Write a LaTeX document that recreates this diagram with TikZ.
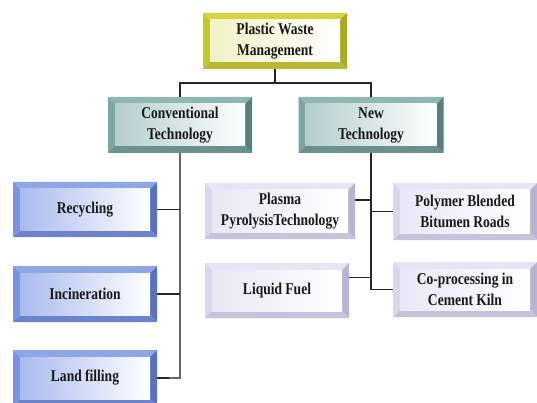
\documentclass[tikz,border=0pt]{standalone}
\usepackage{fontspec}
\setmainfont[FakeStretch=0.82]{Liberation Serif}
\usepackage{tikz}

\definecolor{yelA}{HTML}{D4D43E}
\definecolor{yelB}{HTML}{C6C62E}
\definecolor{yelC}{HTML}{A9A923}
\definecolor{yelD}{HTML}{BABA30}
\definecolor{yelF}{HTML}{F1F1C6}
\definecolor{tealA}{HTML}{90B6B3}
\definecolor{tealB}{HTML}{7CA6A3}
\definecolor{tealC}{HTML}{56807D}
\definecolor{tealD}{HTML}{6A918E}
\definecolor{tealF}{HTML}{B3CDCB}
\definecolor{bluA}{HTML}{8FA6E6}
\definecolor{bluB}{HTML}{7B93DC}
\definecolor{bluC}{HTML}{5B70BE}
\definecolor{bluD}{HTML}{6D82CC}
\definecolor{bluF}{HTML}{A9BAEE}
\definecolor{lavA}{HTML}{E7E5F3}
\definecolor{lavB}{HTML}{DAD7EB}
\definecolor{lavC}{HTML}{B9B4D2}
\definecolor{lavD}{HTML}{C6C2DC}
\definecolor{lavF}{HTML}{E9E7F5}

\begin{document}
\begin{tikzpicture}[
      x = 1pt, y = -1pt,
      bevel/.style n args = {5}{
        fill = white,
        path picture = {
          \path (path picture bounding box.south west) coordinate (bsw)
                (path picture bounding box.north east) coordinate (bne)
                (path picture bounding box.north west) coordinate (bnw)
                (path picture bounding box.south east) coordinate (bse)
                ([shift={(7pt,7pt)}]bsw) coordinate (isw)
                ([shift={(-7pt,-7pt)}]bne) coordinate (ine)
                ([shift={(7pt,-7pt)}]bnw) coordinate (inw)
                ([shift={(-7pt,7pt)}]bse) coordinate (ise);
          \fill[#1] (bnw) -- (bne) -- (ine) -- (inw) -- cycle;
          \fill[#2] (bnw) -- (inw) -- (isw) -- (bsw) -- cycle;
          \fill[#3] (bne) -- (bse) -- (ise) -- (ine) -- cycle;
          \fill[#4] (bsw) -- (isw) -- (ise) -- (bse) -- cycle;
          \shade[left color = #5, right color = white] (isw) rectangle (ine);
        }},
      box/.style = {
        rectangle, inner sep = 0pt, align = center,
        minimum width = 144pt, minimum height = 56pt,
        text = black!90, font = \bfseries\fontsize{16.5}{21}\selectfont},
      headbox/.style = {box, bevel = {yelA}{yelB}{yelC}{yelD}{yelF}},
      techbox/.style = {box, bevel = {tealA}{tealB}{tealC}{tealD}{tealF}},
      oldbox/.style = {box, bevel = {bluA}{bluB}{bluC}{bluD}{bluF}},
      newbox/.style = {box, bevel = {lavA}{lavB}{lavC}{lavD}{lavF}},
      link/.style = {line width = 1.4pt, black!85}
      ]
    \useasboundingbox (0,0) rectangle (537,403);
    \node[headbox] (waste) at (275,41) {Plastic Waste\\Management};
    \node[techbox] (conv) at (180,125) {Conventional\\Technology};
    \node[techbox, minimum width = 145pt] (new) at (371,125) {New\\Technology};
    % conventional side
    \node[oldbox, minimum height = 55pt] (recyc) at (85,209.5) {Recycling};
    \node[oldbox] (incin) at (85,294) {Incineration};
    \node[oldbox] (land) at (85,378) {Land filling};
    % new side
    \node[newbox, minimum width = 150pt] (plasma) at (280,211) {Plasma\\PyrolysisTechnology};
    \node[newbox, minimum height = 55pt] (fuel) at (277,290.5) {Liquid Fuel};
    \node[newbox, minimum height = 57pt] (polymer) at (465,211.5) {Polymer Blended\\Bitumen Roads};
    \node[newbox, minimum height = 55pt] (kiln) at (465,289.5) {Co-processing in\\Cement Kiln};
    \coordinate (split) at (275,83);
    \draw[link] (waste.south) -- (split);
    \draw[link] (split) -| (conv.north);
    \draw[link] (split) -| (new.north);
    \draw[link, gray!80!black] (conv.south) |- (land.east);
    \draw[link] (recyc.east) -- (recyc.east -| conv.south);
    \draw[link] (incin.east) -- (incin.east -| conv.south);
    \draw[link] (land.east) -- ++(12,0);
    \draw[link] (new.south) |- (kiln.west);
    \draw[link] (polymer.west) -- (polymer.west -| new.south);
    \draw[link] ([yshift=11pt]plasma.east) -- ([yshift=11pt]plasma.east -| new.south);
    \draw[link] ([yshift=13pt]fuel.east) -- ([yshift=13pt]fuel.east -| new.south);
  \end{tikzpicture}
\end{document}
